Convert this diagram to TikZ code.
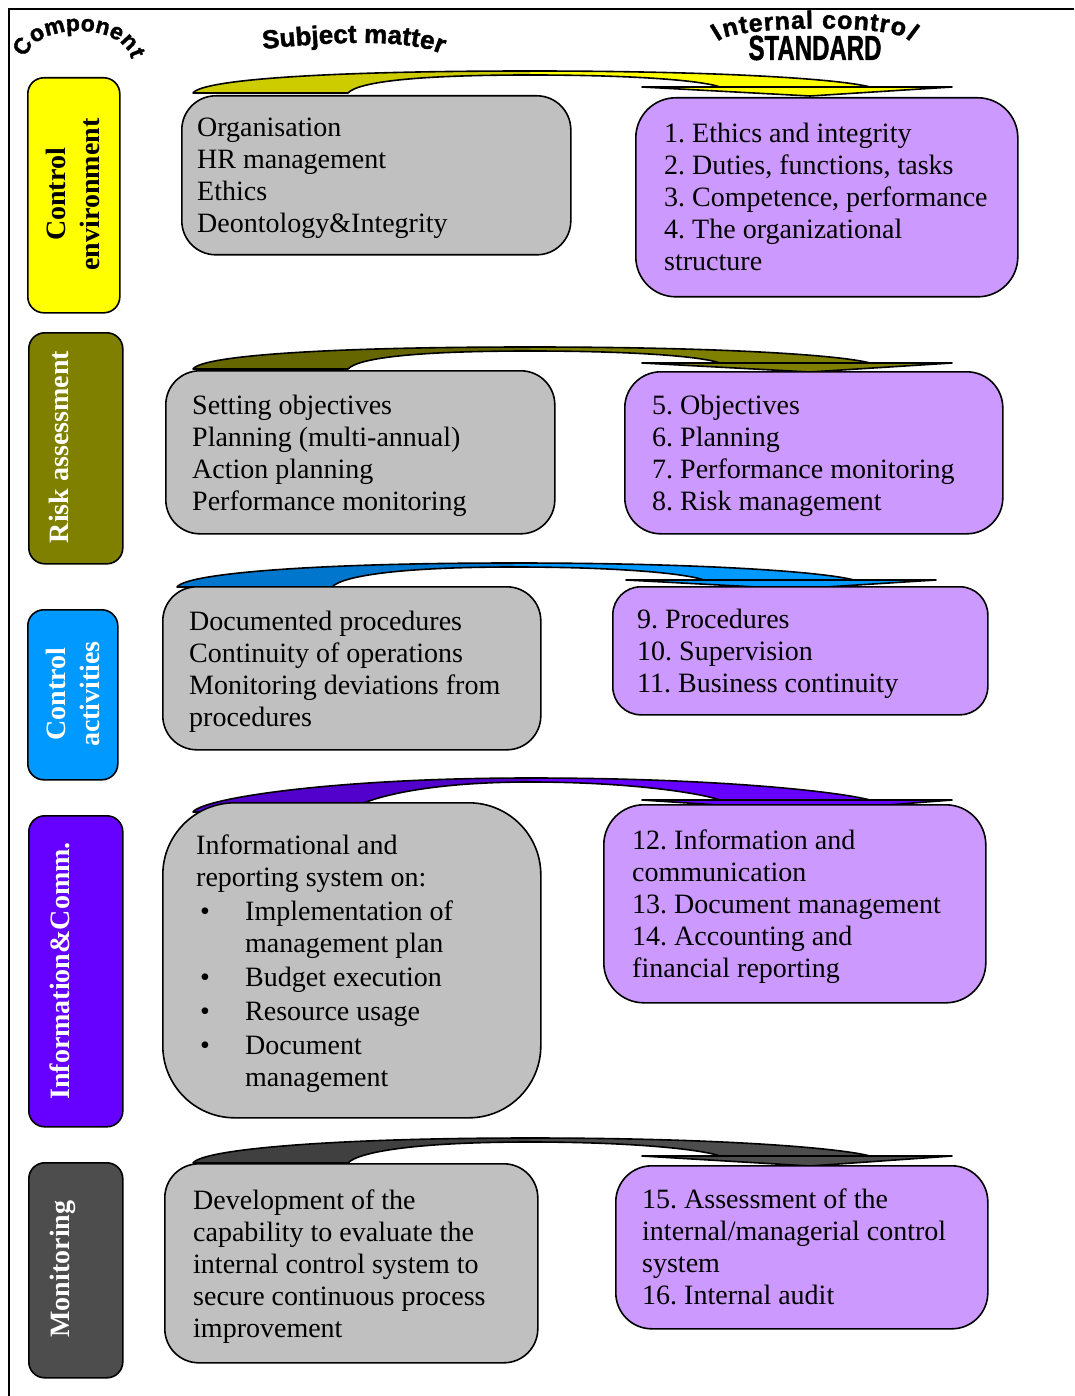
\documentclass[tikz,border=0pt]{standalone}
\usepackage{fontspec}
\setmainfont{Liberation Serif}
\newfontfamily\hdfont{Liberation Sans}[BoldFeatures={FakeBold=1.5}]
\usetikzlibrary{decorations.text}
\definecolor{cyel}{HTML}{FFFF00}
\definecolor{cyeld}{HTML}{CCCC00}
\definecolor{colive}{HTML}{808000}
\definecolor{colived}{HTML}{666600}
\definecolor{cblue}{HTML}{0099FF}
\definecolor{cblued}{HTML}{0077CC}
\definecolor{cpur}{HTML}{6600FF}
\definecolor{cpurd}{HTML}{5200CC}
\definecolor{cgray}{HTML}{4D4D4D}
\definecolor{cgrayd}{HTML}{404040}
\definecolor{boxgray}{HTML}{C0C0C0}
\definecolor{boxpur}{HTML}{CC99FF}
\newcommand\bxfont{\fontsize{28}{32}\selectfont\frenchspacing}
\newcommand\clfont{\fontsize{28}{34}\selectfont\bfseries}
\newcommand\hdA{\hdfont\bfseries\fontsize{23}{25}\selectfont}
\newcommand\hdS{\hdfont\bfseries\fontsize{26}{28}\selectfont}
\newcommand\hdI{\hdfont\bfseries\fontsize{25}{27}\selectfont}
\newcommand\bul{\hspace*{4pt}\makebox[45pt][l]{\textbullet}}
% #1 xshift, #2 yL, #3 yT, #4 yW, #5 yTip, #6 dark, #7 light
\newcommand\bigarrow[7]{%
\begin{scope}[xshift=#1pt]
\fill[#7] (530,#3) .. controls (720,#3) and (840,#4-8) .. (870,#4) -- (952,#4) -- (810,#5+1) -- (642,#4) -- (720,#4) .. controls (700,#4-7) and (630,#3+4) .. (530,#3+4) -- cycle;
\fill[#6] (193,#2) .. controls (203,#2-14) and (335,#3) .. (530,#3) -- (530,#3+4) .. controls (415,#3+4) and (358,#2-11) .. (348,#2) -- cycle;
\draw[line width=1.6pt, line join=round] (193,#2) .. controls (203,#2-14) and (335,#3) .. (530,#3) .. controls (720,#3) and (840,#4-8) .. (870,#4) -- (952,#4) -- (810,#5+1) -- (642,#4) -- (720,#4) .. controls (700,#4-7) and (630,#3+4) .. (530,#3+4) .. controls (415,#3+4) and (358,#2-11) .. (348,#2) -- cycle;
\draw[line width=2.6pt] (642,#4) -- (952,#4);
\end{scope}}
\tikzset{
  comp/.style={draw, line width=1.6pt, rounded corners=16pt, anchor=north west, inner sep=0pt},
  gbox/.style={draw, fill=boxgray, line width=1.6pt, rounded corners=34pt, anchor=north west, inner sep=0pt},
  pbox/.style={draw, fill=boxpur, line width=1.6pt, rounded corners=36pt, anchor=north west, inner sep=0pt},
  txt/.style={anchor=north west, inner sep=0pt, align=left, font=\bxfont},
  clabel/.style={rotate=90, inner sep=0pt, align=center, font=\clfont},
}
\begin{document}
\begin{tikzpicture}[x=1pt,y=-1pt]
\useasboundingbox (0,0) rectangle (1074,1396);
% frame
\coordinate (fr1) at (1074,9);
\coordinate (fr2) at (9,9);
\coordinate (fr3) at (9,1396);
\draw[line width=2pt] (fr1) -- (fr2) -- (fr3);

% headers
\path[decorate, decoration={text along path, text={|\hdA|Component}, text align=fit to path}]
  (26,58) .. controls (32,24) and (120,20) .. (131,58);
\path[decorate, decoration={text along path, text={|\hdS|Subject matter}, text align=fit to path}]
  (263,49) .. controls (330,42) and (405,38) .. (442,54);
\path[decorate, decoration={text along path, text={|\hdI|Internal control}, text align=fit to path}]
  (718,42) .. controls (726,26) and (900,22) .. (910,42);
\node[font=\hdfont\bfseries\fontsize{24}{26}\selectfont, yscale=1.45, inner sep=0pt] (stdhead) at (815,48) {STANDARD};

% arrows
\bigarrow{0}{93}{71}{87}{95}{cyeld}{cyel}
\bigarrow{0}{369}{347}{363}{371}{colived}{colive}
\bigarrow{-16}{587}{563}{580}{588}{cblued}{cblue}
\bigarrow{0}{812}{778}{800}{810}{cpurd}{cpur}
\bigarrow{0}{1163}{1138}{1156}{1165}{cgrayd}{cgray}

% component boxes
\node[comp, fill=cyel, minimum width=92pt, minimum height=235pt] (comp1) at (27,77) {};
\node[clabel, text=black] (comp1t) at (73,194.5) {Control\\environment};
\node[comp, fill=colive, minimum width=94pt, minimum height=231pt] (comp2) at (28,332) {};
\node[clabel, text=white] (comp2t) at (59,447) {Risk assessment};
\node[comp, fill=cblue, minimum width=90pt, minimum height=170pt] (comp3) at (27,609) {};
\node[clabel, text=white] (comp3t) at (73,694) {Control\\activities};
\node[comp, fill=cpur, minimum width=94pt, minimum height=311pt] (comp4) at (28,815) {};
\node[clabel, text=white] (comp4t) at (60,971) {Information\&Comm.};
\node[comp, fill=cgray, minimum width=94pt, minimum height=215pt] (comp5) at (28,1162) {};
\node[clabel, text=white, text depth=0pt] (comp5t) at (60,1269) {Monitoring};

% subject matter boxes
\node[gbox, minimum width=389pt, minimum height=159pt] (subj1) at (181,95) {};
\node[txt] (subj1t) at (197,114) {\strut Organisation\\HR management\\Ethics\\Deontology\&Integrity};
\node[gbox, minimum width=389pt, minimum height=163pt] (subj2) at (165,370) {};
\node[txt] (subj2t) at (192,392) {\strut Setting objectives\\Planning (multi-annual)\\Action planning\\Performance monitoring};
\node[gbox, minimum width=378pt, minimum height=163pt] (subj3) at (162,586) {};
\node[txt] (subj3t) at (189,608) {\strut Documented procedures\\Continuity of operations\\Monitoring deviations from\\procedures};
\node[gbox, rounded corners=72pt, minimum width=378pt, minimum height=315pt] (subj4) at (162,802) {};
\node[txt] (subj4t) at (196,832) {\strut Informational and\\reporting system on:\\[2pt]
  \bul Implementation of\\\hspace*{49pt}management plan\\[2pt]
  \bul Budget execution\\[2pt]
  \bul Resource usage\\[2pt]
  \bul Document\\\hspace*{49pt}management};
\node[gbox, minimum width=373pt, minimum height=199pt] (subj5) at (164,1163) {};
\node[txt] (subj5t) at (193,1187) {\strut Development of the\\capability to evaluate the\\internal control system to\\secure continuous process\\improvement};

% standard boxes
\node[pbox, rounded corners=40pt, minimum width=382pt, minimum height=199pt] (std1) at (635,97) {};
\node[txt] (std1t) at (664,120) {\strut 1. Ethics and integrity\\2. Duties, functions, tasks\\3. Competence, performance\\4. The organizational\\structure};
\node[pbox, minimum width=378pt, minimum height=162pt] (std2) at (624,371) {};
\node[txt] (std2t) at (652,392) {\strut 5. Objectives\\6. Planning\\7. Performance monitoring\\8. Risk management};
\node[pbox, rounded corners=28pt, minimum width=375pt, minimum height=128pt] (std3) at (612,586) {};
\node[txt] (std3t) at (637,606) {\strut 9. Procedures\\10. Supervision\\11. Business continuity};
\node[pbox, rounded corners=40pt, minimum width=382pt, minimum height=198pt] (std4) at (603,804) {};
\node[txt] (std4t) at (632,827) {\strut 12. Information and\\communication\\13. Document management\\14. Accounting and\\financial reporting};
\node[pbox, minimum width=372pt, minimum height=163pt] (std5) at (615,1165) {};
\node[txt] (std5t) at (642,1186) {\strut 15. Assessment of the\\internal/managerial control\\system\\16. Internal audit};
\end{tikzpicture}
\end{document}
